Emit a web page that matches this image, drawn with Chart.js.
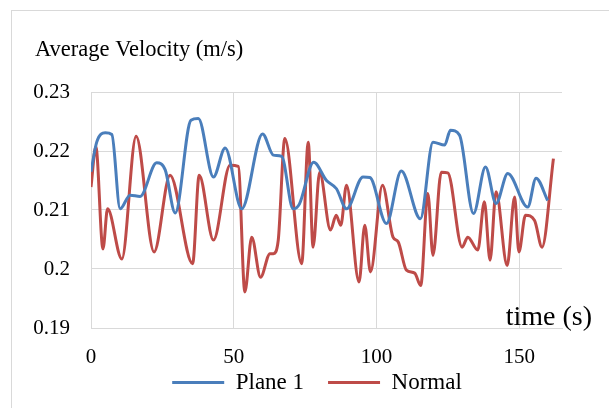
<!DOCTYPE html>
<html>
<head>
<meta charset="utf-8">
<title>Average Velocity</title>
<script src="https://cdn.jsdelivr.net/npm/chart.js@4.4.1/dist/chart.umd.min.js"></script>
<style>
  html, body { margin: 0; padding: 0; background: #fff; overflow: hidden; }
  #frame { position: absolute; left: 11px; top: 10px; width: 640px; height: 440px; border: 1px solid #d9d9d9; }
  #wrap { position: absolute; left: 0; top: 0; width: 609px; height: 408px; }
</style>
</head>
<body>
<div id="frame"></div>
<div id="wrap"><canvas id="velocity" width="609" height="408"></canvas></div>
<script>
// Plane 1 velocity samples (time in s, velocity in m/s)
var planeTime = [0, 2, 5, 7.3, 10.2, 13.7, 17.2, 23, 26, 29.5, 35, 37.6, 42.9, 47, 52.8,
    60.1, 63.9, 66.8, 70.8, 73, 78, 82.5, 86, 89.5, 95.3, 97.7, 103.5, 108.7, 115.4,
    119.8, 123.9, 125.9, 129.1, 134, 138.2, 141.9, 146, 153, 155.9, 160];
var planeVel = [0.2165, 0.2215, 0.2231, 0.2228, 0.2102, 0.2125, 0.2123, 0.2180, 0.2168, 0.2095, 0.2252, 0.2255, 0.2156, 0.2205, 0.2102,
    0.2229, 0.2193, 0.2191, 0.2102, 0.2110, 0.2181, 0.2150, 0.2136, 0.2102, 0.2156, 0.2155, 0.2077, 0.2166, 0.2085,
    0.2215, 0.2210, 0.2235, 0.2227, 0.2094, 0.2173, 0.2111, 0.2162, 0.2105, 0.2154, 0.2116];

// Normal velocity samples
var normalTime = [0, 1.7, 4.2, 5.8, 10.8, 15.8, 22.1, 27.7, 35.6, 37.9, 42.9, 48.7, 51.6, 53.9,
    56.3, 59.4, 62.7, 63.9, 65.6, 67.9, 73.8, 76.1, 77.8, 80.1, 83.9, 85.9, 87.5, 89.5,
    93.9, 95.9, 97.9, 102.1, 105.8, 107.6, 110.5, 113.4, 115.5, 118, 119.8, 122.7, 125,
    130, 132, 135.5, 137.8, 139.8, 141.9, 145.8, 148.4, 149.9, 152.2, 155.4, 158, 162];
var normalVel = [0.2139, 0.2207, 0.2034, 0.2102, 0.2017, 0.2225, 0.2029, 0.2159, 0.2009, 0.2159, 0.2049, 0.2176, 0.2174, 0.1961,
    0.2054, 0.1986, 0.2026, 0.2026, 0.2049, 0.2221, 0.2009, 0.2215, 0.2037, 0.2164, 0.2066, 0.2091, 0.2074, 0.2142,
    0.1978, 0.2074, 0.1995, 0.2142, 0.2054, 0.2046, 0.1998, 0.1993, 0.1972, 0.2128, 0.2023, 0.2164, 0.2163,
    0.2037, 0.2054, 0.2032, 0.2114, 0.2015, 0.2131, 0.2006, 0.2122, 0.2029, 0.2091, 0.2082, 0.2037, 0.2187];

var xTicks = [0, 50, 100, 150];
var seriesNames = ["Plane 1", "Normal"];

var serif = "'Liberation Serif', 'Times New Roman', serif";
var gridColor = "#d9d9d9";

function toPoints(xs, ys) {
    return xs.map(function(x, i) { return { x: x, y: ys[i] }; });
}

// title in the top-left corner and the axis name sitting inside the plot
var chartTexts = {
    id: "chartTexts",
    afterDraw: function(chart) {
        var ctx = chart.ctx;
        var area = chart.chartArea;
        ctx.save();
        ctx.fillStyle = "#000";
        ctx.textBaseline = "alphabetic";
        ctx.textAlign = "left";
        ctx.font = "22.5px " + serif;
        ctx.fillText("Average Velocity (m/s)", 35, 56);
        ctx.textAlign = "right";
        ctx.font = "28px " + serif;
        ctx.fillText("time (s)", area.right + 30, area.bottom - 3);
        ctx.restore();
    }
};

new Chart("velocity", {
    type: "line",
    data: {
        datasets: [{
            label: seriesNames[0],
            data: toPoints(planeTime, planeVel),
            borderColor: "#4a7ebb",
            backgroundColor: "#4a7ebb",
            borderWidth: 3,
            pointRadius: 0,
            cubicInterpolationMode: "monotone"
        }, {
            label: seriesNames[1],
            data: toPoints(normalTime, normalVel),
            borderColor: "#be4b48",
            backgroundColor: "#be4b48",
            borderWidth: 3,
            pointRadius: 0,
            cubicInterpolationMode: "monotone"
        }]
    },
    options: {
        responsive: false,
        animation: false,
        layout: { padding: { top: 92, left: 28, right: 3, bottom: 4 } },
        scales: {
            x: {
                type: "linear",
                min: 0,
                max: 165,
                afterBuildTicks: function(scale) {
                    scale.ticks = xTicks.map(function(v) { return { value: v }; });
                },
                afterFit: function(scale) { scale.height = 19; },
                grid: { color: gridColor, drawTicks: false },
                border: { color: gridColor },
                ticks: {
                    // mirrored labels are not clipped to the short axis box;
                    // the negative padding pushes them back below the axis
                    mirror: true,
                    padding: -41.6,
                    maxRotation: 0,
                    color: "#000",
                    font: { family: serif, size: 21 }
                }
            },
            y: {
                min: 0.19,
                max: 0.23,
                afterFit: function(scale) { scale.width = 63; },
                grid: { color: gridColor, drawTicks: false },
                border: { color: gridColor },
                ticks: {
                    stepSize: 0.01,
                    padding: 21,
                    color: "#000",
                    font: { family: serif, size: 21 },
                    callback: function(v) { return String(+v.toFixed(2)); }
                }
            },
            // empty strip on the right so the plot stops short of the edge
            yRight: {
                position: "right",
                grid: { display: false },
                border: { display: false },
                ticks: { display: false },
                afterFit: function(scale) { scale.width = 44; }
            }
        },
        plugins: {
            legend: {
                position: "bottom",
                labels: {
                    usePointStyle: true,
                    pointStyle: "line",
                    pointStyleWidth: 52,
                    padding: 24,
                    color: "#000",
                    font: { family: serif, size: 23 }
                }
            },
            tooltip: { enabled: false }
        }
    },
    plugins: [chartTexts]
});
</script>
</body>
</html>
